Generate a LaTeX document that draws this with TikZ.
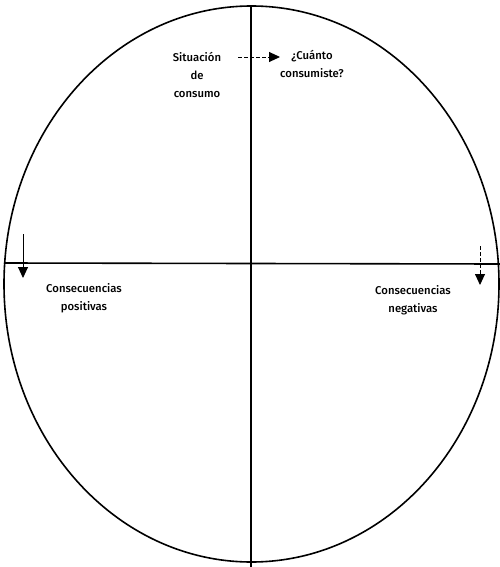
\documentclass[tikz,border=0pt]{standalone}
\usepackage{fontspec}
\setmainfont{Fira Sans}[BoldFont={Fira Sans Medium}]
\usetikzlibrary{arrows.meta}
\begin{document}
\begin{tikzpicture}[x=1pt,y=-1pt,
  lbl/.style={font=\fontsize{11.3}{18}\selectfont\bfseries, align=center, inner sep=0pt},
  frame/.style={line width=1.6pt},
  arr/.style={line width=0.9pt, -{Triangle[length=11pt,width=10pt]}},
  darr/.style={arr, dash pattern=on 4pt off 2pt}]
\useasboundingbox (0,0) rectangle (500,567);
\draw[frame] (251.5,284) ellipse [x radius=247.5, y radius=278];
\draw[frame] (251,6) coordinate (vt) -- (251,567) coordinate (vb);
\draw[frame] (4,263) coordinate (hl) -- (500,264) coordinate (hr);
\node[lbl] (sit) at (197,75) {Situación\\de\\consumo};
\node[lbl, anchor=north] (cua) at (312,50) {¿Cuánto\\consumiste?};
\node[lbl, anchor=north] (pos) at (84,283) {Consecuencias\\positivas};
\node[lbl, anchor=north] (neg) at (413,285) {Consecuencias\\negativas};
\coordinate (a1s) at (238,57);
\coordinate (a1e) at (280,57);
\draw[darr] (a1s) -- (a1e);
\coordinate (a2s) at (23,234);
\coordinate (a2e) at (23,278);
\draw[arr] (a2s) -- (a2e);
\coordinate (a3s) at (480,246);
\coordinate (a3e) at (480,285);
\draw[darr] (a3s) -- (a3e);
\end{tikzpicture}
\end{document}
